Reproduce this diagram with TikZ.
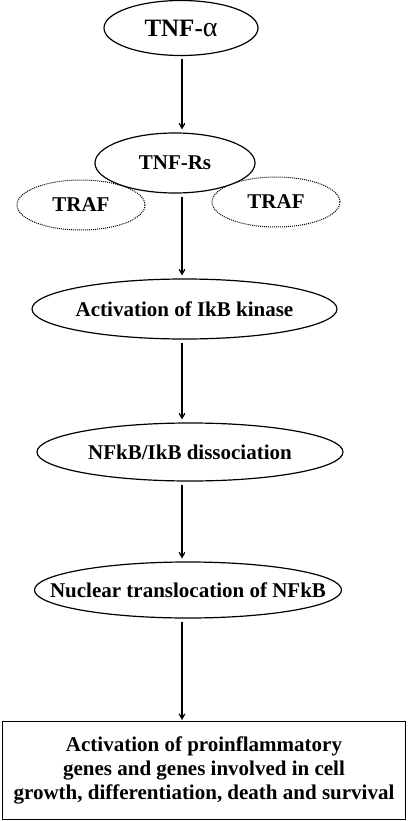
\documentclass[tikz,border=0pt]{standalone}
\usepackage{fontspec}
\setmainfont{Liberation Serif}
\usetikzlibrary{arrows}
\usetikzlibrary{positioning}
\usetikzlibrary{shapes.geometric}

\begin{document}
\begin{tikzpicture}[x=1pt, y=1pt, auto]

\tikzstyle{step node} = [ellipse, draw, line width=1.2pt, fill=white, inner ysep=0pt, inner xsep=-30pt, font=\bfseries\fontsize{21}{24}\selectfont]
\tikzstyle{traf node} = [ellipse, draw, line width=1pt, dash pattern=on 1pt off 1pt, inner sep=0pt, minimum width=128pt, minimum height=50pt, font=\bfseries\fontsize{21}{24}\selectfont]
\tikzstyle{arr} = [->, >=angle 60, line width=1.2pt, shorten <=3pt, shorten >=3pt]

\useasboundingbox (0,0) rectangle (408,-821);
\coordinate (axis) at (182,0);

% receptor level
\node[traf node] (trafl) at (81,-205) {TRAF};
\node[traf node] (trafr) at (276,-202) {TRAF};
\node[step node] (tnf) at (181,-28) [minimum width=154pt, minimum height=55pt, font=\bfseries\fontsize{25}{28}\selectfont] {TNF-{\mdseries\fontsize{28}{28}\selectfont α}};
\node[step node] (rs) [below of=tnf, node distance=135pt, xshift=-6pt, minimum width=160pt, minimum height=60pt] {TNF-Rs};

% signalling steps
\node[step node] (act) [below of=rs, node distance=146pt, xshift=9.5pt, minimum width=305pt, minimum height=60pt] {Activation of IkB kinase};
\node[step node] (diss) [below of=act, node distance=143pt, xshift=5.5pt, minimum width=306pt, minimum height=58pt] {NFkB/IkB dissociation};
\node[step node] (nuc) [below of=diss, node distance=138pt, xshift=-2pt, minimum width=307pt, minimum height=56pt] {Nuclear translocation of NFkB};

\node[draw, line width=1.5pt, minimum width=403pt, minimum height=98pt, inner sep=0pt, align=center, font=\bfseries\fontsize{21}{24}\selectfont] (genes) at (204,-770.5) {Activation of proinflammatory\\ genes and genes involved in cell\\ growth, differentiation, death and survival};

  \draw[arr] (axis |- tnf.south) -- (axis |- rs.north);
  \draw[arr] (axis |- rs.south) -- (axis |- act.north);
  \draw[arr] (axis |- act.south) -- (axis |- diss.north);
  \draw[arr] (axis |- diss.south) -- (axis |- nuc.north);
  \draw[arr, shorten >=0.8pt] (axis |- nuc.south) -- (axis |- genes.north);
\end{tikzpicture}
\end{document}
